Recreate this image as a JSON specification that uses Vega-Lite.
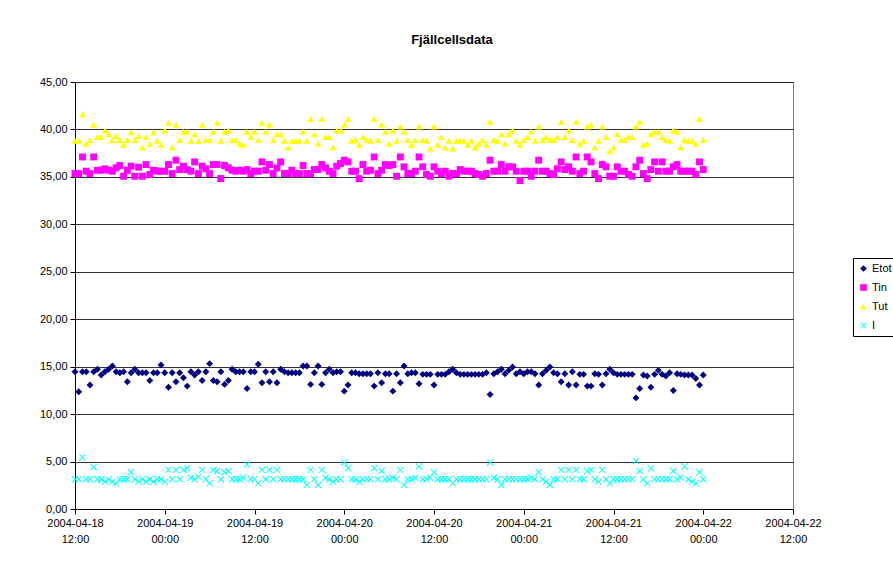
{
"$schema": "https://vega.github.io/schema/vega-lite/v6.json",
"width": 718, "height": 427,
"autosize": {"type": "none"},
"padding": {"left": 75, "top": 82, "right": 100, "bottom": 54},
"background": "white",
"config": {"view": {"stroke": "#808080", "strokeWidth": 1}, "font": "Liberation Sans"},
"title": {"text": "Fjällcellsdata", "font": "Liberation Sans", "fontSize": 13, "fontWeight": "bold", "color": "black", "anchor": "middle", "offset": 29, "dx": 18},
"data": {"format": {"parse": {"t": "utc:'%Y-%m-%d %H:%M'"}}, "values": [
{"t":"2004-04-18 12:00","Etot":14.47,"Tin":35.35,"Tut":38.8,"I":3.13},
{"t":"2004-04-18 12:30","Etot":12.35,"Tin":35.35,"Tut":38.8,"I":3.13},
{"t":"2004-04-18 13:00","Etot":14.47,"Tin":37.1,"Tut":41.6,"I":5.42},
{"t":"2004-04-18 13:30","Etot":14.47,"Tin":35.6,"Tut":38.5,"I":3.13},
{"t":"2004-04-18 14:00","Etot":13.06,"Tin":35.35,"Tut":38.9,"I":3.13},
{"t":"2004-04-18 14:30","Etot":14.47,"Tin":37.1,"Tut":40.5,"I":4.4},
{"t":"2004-04-18 15:00","Etot":14.72,"Tin":35.7,"Tut":39.2,"I":3.13},
{"t":"2004-04-18 15:30","Etot":14.12,"Tin":35.7,"Tut":39.2,"I":3.13},
{"t":"2004-04-18 16:00","Etot":14.47,"Tin":35.85,"Tut":39.9,"I":2.88},
{"t":"2004-04-18 16:30","Etot":14.72,"Tin":35.7,"Tut":39.5,"I":3.13},
{"t":"2004-04-18 17:00","Etot":15.07,"Tin":35.6,"Tut":38.9,"I":2.88},
{"t":"2004-04-18 17:30","Etot":14.47,"Tin":35.95,"Tut":39.3,"I":2.7},
{"t":"2004-04-18 18:00","Etot":14.36,"Tin":36.2,"Tut":38.9,"I":3.13},
{"t":"2004-04-18 18:30","Etot":14.47,"Tin":35.07,"Tut":38.4,"I":3.13},
{"t":"2004-04-18 19:00","Etot":13.41,"Tin":35.7,"Tut":38.9,"I":3.13},
{"t":"2004-04-18 19:30","Etot":14.36,"Tin":36.13,"Tut":39.7,"I":3.87},
{"t":"2004-04-18 20:00","Etot":14.72,"Tin":35.07,"Tut":38.9,"I":3.13},
{"t":"2004-04-18 20:30","Etot":14.36,"Tin":36.02,"Tut":39.3,"I":2.88},
{"t":"2004-04-18 21:00","Etot":14.36,"Tin":35.07,"Tut":38.1,"I":3.13},
{"t":"2004-04-18 21:30","Etot":14.36,"Tin":36.3,"Tut":39.2,"I":2.88},
{"t":"2004-04-18 22:00","Etot":13.55,"Tin":35.25,"Tut":38.5,"I":3.13},
{"t":"2004-04-18 22:30","Etot":14.36,"Tin":35.7,"Tut":39.7,"I":2.88},
{"t":"2004-04-18 23:00","Etot":14.36,"Tin":35.6,"Tut":38.8,"I":3.13},
{"t":"2004-04-18 23:30","Etot":15.18,"Tin":35.6,"Tut":38.4,"I":3.13},
{"t":"2004-04-19 00:00","Etot":14.36,"Tin":35.6,"Tut":39.9,"I":2.88},
{"t":"2004-04-19 00:30","Etot":12.84,"Tin":36.3,"Tut":40.7,"I":4.12},
{"t":"2004-04-19 01:00","Etot":14.36,"Tin":35.35,"Tut":38.1,"I":3.13},
{"t":"2004-04-19 01:30","Etot":13.41,"Tin":36.76,"Tut":40.5,"I":4.12},
{"t":"2004-04-19 02:00","Etot":14.36,"Tin":35.77,"Tut":38.9,"I":3.13},
{"t":"2004-04-19 02:30","Etot":13.83,"Tin":36.13,"Tut":39.75,"I":4.12},
{"t":"2004-04-19 03:00","Etot":12.95,"Tin":35.77,"Tut":39.75,"I":4.29},
{"t":"2004-04-19 03:30","Etot":14.47,"Tin":35.6,"Tut":38.8,"I":3.3},
{"t":"2004-04-19 04:00","Etot":14.12,"Tin":36.58,"Tut":39.5,"I":3.13},
{"t":"2004-04-19 04:30","Etot":14.47,"Tin":35.35,"Tut":38.8,"I":3.41},
{"t":"2004-04-19 05:00","Etot":13.55,"Tin":36.13,"Tut":40.5,"I":4.12},
{"t":"2004-04-19 05:30","Etot":14.47,"Tin":35.85,"Tut":38.9,"I":3.13},
{"t":"2004-04-19 06:00","Etot":15.32,"Tin":35.35,"Tut":38.9,"I":2.7},
{"t":"2004-04-19 06:30","Etot":13.55,"Tin":36.3,"Tut":39.75,"I":4.12},
{"t":"2004-04-19 07:00","Etot":13.41,"Tin":36.3,"Tut":40.7,"I":4.01},
{"t":"2004-04-19 07:30","Etot":14.47,"Tin":34.82,"Tut":38.8,"I":3.13},
{"t":"2004-04-19 08:00","Etot":13.13,"Tin":36.2,"Tut":39.75,"I":3.87},
{"t":"2004-04-19 08:30","Etot":13.55,"Tin":35.95,"Tut":39.9,"I":4.01},
{"t":"2004-04-19 09:00","Etot":14.72,"Tin":35.7,"Tut":38.9,"I":3.13},
{"t":"2004-04-19 09:30","Etot":14.47,"Tin":35.6,"Tut":38.9,"I":3.13},
{"t":"2004-04-19 10:00","Etot":14.47,"Tin":35.7,"Tut":38.5,"I":3.13},
{"t":"2004-04-19 10:30","Etot":14.47,"Tin":35.6,"Tut":38.4,"I":3.3},
{"t":"2004-04-19 11:00","Etot":12.7,"Tin":35.77,"Tut":39.75,"I":4.72},
{"t":"2004-04-19 11:30","Etot":14.47,"Tin":35.35,"Tut":39.2,"I":3.13},
{"t":"2004-04-19 12:00","Etot":14.47,"Tin":35.6,"Tut":39.75,"I":3.13},
{"t":"2004-04-19 12:30","Etot":15.25,"Tin":35.6,"Tut":38.9,"I":2.7},
{"t":"2004-04-19 13:00","Etot":13.3,"Tin":36.58,"Tut":40.7,"I":4.12},
{"t":"2004-04-19 13:30","Etot":14.47,"Tin":35.7,"Tut":39.75,"I":3.13},
{"t":"2004-04-19 14:00","Etot":13.41,"Tin":36.3,"Tut":40.5,"I":4.12},
{"t":"2004-04-19 14:30","Etot":14.47,"Tin":35.35,"Tut":38.9,"I":3.13},
{"t":"2004-04-19 15:00","Etot":13.3,"Tin":35.95,"Tut":39.5,"I":4.12},
{"t":"2004-04-19 15:30","Etot":14.72,"Tin":36.58,"Tut":39.5,"I":3.13},
{"t":"2004-04-19 16:00","Etot":14.47,"Tin":35.35,"Tut":38.8,"I":3.13},
{"t":"2004-04-19 16:30","Etot":14.36,"Tin":35.35,"Tut":38.1,"I":3.13},
{"t":"2004-04-19 17:00","Etot":14.36,"Tin":35.7,"Tut":38.8,"I":3.13},
{"t":"2004-04-19 17:30","Etot":14.36,"Tin":35.35,"Tut":38.8,"I":3.13},
{"t":"2004-04-19 18:00","Etot":14.36,"Tin":35.35,"Tut":38.8,"I":3.13},
{"t":"2004-04-19 18:30","Etot":15.07,"Tin":36.2,"Tut":39.75,"I":3.13},
{"t":"2004-04-19 19:00","Etot":15.07,"Tin":35.35,"Tut":38.8,"I":2.53},
{"t":"2004-04-19 19:30","Etot":13.13,"Tin":35.35,"Tut":41.1,"I":4.12},
{"t":"2004-04-19 20:00","Etot":14.36,"Tin":35.77,"Tut":39.5,"I":3.13},
{"t":"2004-04-19 20:30","Etot":15.07,"Tin":35.77,"Tut":38.5,"I":2.53},
{"t":"2004-04-19 21:00","Etot":13.13,"Tin":36.3,"Tut":41.1,"I":4.12},
{"t":"2004-04-19 21:30","Etot":14.36,"Tin":35.95,"Tut":39.2,"I":3.3},
{"t":"2004-04-19 22:00","Etot":14.72,"Tin":35.6,"Tut":39.2,"I":3.13},
{"t":"2004-04-19 22:30","Etot":14.36,"Tin":35.35,"Tut":38.1,"I":2.88},
{"t":"2004-04-19 23:00","Etot":14.47,"Tin":36.13,"Tut":39.9,"I":3.13},
{"t":"2004-04-19 23:30","Etot":14.47,"Tin":36.41,"Tut":39.9,"I":3.13},
{"t":"2004-04-20 00:00","Etot":12.42,"Tin":36.76,"Tut":40.5,"I":4.89},
{"t":"2004-04-20 00:30","Etot":13.06,"Tin":36.58,"Tut":41.1,"I":4.29},
{"t":"2004-04-20 01:00","Etot":14.36,"Tin":35.6,"Tut":38.8,"I":3.13},
{"t":"2004-04-20 01:30","Etot":14.36,"Tin":35.6,"Tut":38.9,"I":3.13},
{"t":"2004-04-20 02:00","Etot":14.26,"Tin":34.82,"Tut":38.4,"I":2.88},
{"t":"2004-04-20 02:30","Etot":14.26,"Tin":36.3,"Tut":39.2,"I":3.13},
{"t":"2004-04-20 03:00","Etot":14.26,"Tin":35.6,"Tut":38.9,"I":3.13},
{"t":"2004-04-20 03:30","Etot":14.26,"Tin":35.7,"Tut":38.8,"I":3.13},
{"t":"2004-04-20 04:00","Etot":12.95,"Tin":37.1,"Tut":41.1,"I":4.29},
{"t":"2004-04-20 04:30","Etot":14.36,"Tin":35.35,"Tut":38.9,"I":3.13},
{"t":"2004-04-20 05:00","Etot":13.3,"Tin":35.7,"Tut":40.5,"I":4.01},
{"t":"2004-04-20 05:30","Etot":14.26,"Tin":36.3,"Tut":39.75,"I":3.13},
{"t":"2004-04-20 06:00","Etot":14.26,"Tin":36.2,"Tut":38.5,"I":3.13},
{"t":"2004-04-20 06:30","Etot":12.42,"Tin":36.3,"Tut":39.9,"I":3.3},
{"t":"2004-04-20 07:00","Etot":14.26,"Tin":35.07,"Tut":38.8,"I":3.13},
{"t":"2004-04-20 07:30","Etot":13.3,"Tin":37.1,"Tut":40.3,"I":4.12},
{"t":"2004-04-20 08:00","Etot":15.07,"Tin":36.06,"Tut":39.75,"I":2.53},
{"t":"2004-04-20 08:30","Etot":14.26,"Tin":35.35,"Tut":38.9,"I":3.13},
{"t":"2004-04-20 09:00","Etot":14.36,"Tin":35.35,"Tut":38.4,"I":3.13},
{"t":"2004-04-20 09:30","Etot":14.36,"Tin":35.6,"Tut":38.9,"I":3.3},
{"t":"2004-04-20 10:00","Etot":13.2,"Tin":37.1,"Tut":40.3,"I":4.47},
{"t":"2004-04-20 10:30","Etot":14.19,"Tin":36.06,"Tut":38.9,"I":3.13},
{"t":"2004-04-20 11:00","Etot":14.19,"Tin":35.25,"Tut":38.8,"I":3.13},
{"t":"2004-04-20 11:30","Etot":14.19,"Tin":35.07,"Tut":38.0,"I":3.3},
{"t":"2004-04-20 12:00","Etot":13.06,"Tin":36.06,"Tut":40.3,"I":3.87},
{"t":"2004-04-20 12:30","Etot":14.19,"Tin":35.6,"Tut":38.4,"I":3.13},
{"t":"2004-04-20 13:00","Etot":14.19,"Tin":35.35,"Tut":39.2,"I":3.13},
{"t":"2004-04-20 13:30","Etot":14.19,"Tin":35.6,"Tut":38.1,"I":3.13},
{"t":"2004-04-20 14:00","Etot":14.47,"Tin":35.07,"Tut":38.8,"I":3.13},
{"t":"2004-04-20 14:30","Etot":14.72,"Tin":35.35,"Tut":38.0,"I":2.7},
{"t":"2004-04-20 15:00","Etot":14.36,"Tin":35.35,"Tut":38.8,"I":3.13},
{"t":"2004-04-20 15:30","Etot":14.19,"Tin":35.77,"Tut":38.8,"I":3.13},
{"t":"2004-04-20 16:00","Etot":14.19,"Tin":35.6,"Tut":38.8,"I":3.13},
{"t":"2004-04-20 16:30","Etot":14.19,"Tin":35.6,"Tut":38.4,"I":3.13},
{"t":"2004-04-20 17:00","Etot":14.19,"Tin":35.6,"Tut":38.8,"I":3.13},
{"t":"2004-04-20 17:30","Etot":14.19,"Tin":35.35,"Tut":38.1,"I":3.13},
{"t":"2004-04-20 18:00","Etot":14.19,"Tin":35.25,"Tut":38.5,"I":3.13},
{"t":"2004-04-20 18:30","Etot":14.19,"Tin":35.07,"Tut":38.9,"I":3.13},
{"t":"2004-04-20 19:00","Etot":14.36,"Tin":35.35,"Tut":38.4,"I":3.13},
{"t":"2004-04-20 19:30","Etot":12.07,"Tin":36.76,"Tut":40.8,"I":4.89},
{"t":"2004-04-20 20:00","Etot":14.26,"Tin":35.6,"Tut":38.9,"I":3.3},
{"t":"2004-04-20 20:30","Etot":14.47,"Tin":35.6,"Tut":38.8,"I":3.13},
{"t":"2004-04-20 21:00","Etot":14.72,"Tin":36.3,"Tut":39.5,"I":2.53},
{"t":"2004-04-20 21:30","Etot":14.26,"Tin":35.6,"Tut":38.5,"I":3.13},
{"t":"2004-04-20 22:00","Etot":14.61,"Tin":36.06,"Tut":39.5,"I":3.13},
{"t":"2004-04-20 22:30","Etot":14.96,"Tin":36.06,"Tut":39.9,"I":3.13},
{"t":"2004-04-20 23:00","Etot":14.26,"Tin":35.6,"Tut":38.8,"I":3.13},
{"t":"2004-04-20 23:30","Etot":14.47,"Tin":34.61,"Tut":38.4,"I":3.13},
{"t":"2004-04-21 00:00","Etot":14.26,"Tin":35.6,"Tut":38.9,"I":3.13},
{"t":"2004-04-21 00:30","Etot":14.47,"Tin":35.6,"Tut":39.2,"I":3.13},
{"t":"2004-04-21 01:00","Etot":14.47,"Tin":35.07,"Tut":39.75,"I":3.3},
{"t":"2004-04-21 01:30","Etot":14.26,"Tin":35.6,"Tut":38.8,"I":3.13},
{"t":"2004-04-21 02:00","Etot":13.06,"Tin":36.76,"Tut":40.3,"I":3.87},
{"t":"2004-04-21 02:30","Etot":14.26,"Tin":35.6,"Tut":38.9,"I":3.13},
{"t":"2004-04-21 03:00","Etot":14.61,"Tin":35.6,"Tut":39.2,"I":2.88},
{"t":"2004-04-21 03:30","Etot":14.96,"Tin":35.35,"Tut":38.9,"I":2.53},
{"t":"2004-04-21 04:00","Etot":14.36,"Tin":35.25,"Tut":38.9,"I":3.13},
{"t":"2004-04-21 04:30","Etot":14.26,"Tin":35.85,"Tut":39.2,"I":3.13},
{"t":"2004-04-21 05:00","Etot":13.41,"Tin":36.58,"Tut":40.8,"I":4.12},
{"t":"2004-04-21 05:30","Etot":14.26,"Tin":35.77,"Tut":39.2,"I":3.13},
{"t":"2004-04-21 06:00","Etot":13.06,"Tin":36.06,"Tut":39.9,"I":4.12},
{"t":"2004-04-21 06:30","Etot":14.47,"Tin":35.6,"Tut":38.9,"I":3.13},
{"t":"2004-04-21 07:00","Etot":13.06,"Tin":37.1,"Tut":40.8,"I":4.12},
{"t":"2004-04-21 07:30","Etot":14.19,"Tin":35.35,"Tut":38.5,"I":3.13},
{"t":"2004-04-21 08:00","Etot":14.19,"Tin":35.6,"Tut":38.8,"I":3.13},
{"t":"2004-04-21 08:30","Etot":12.95,"Tin":37.1,"Tut":40.3,"I":4.01},
{"t":"2004-04-21 09:00","Etot":12.95,"Tin":36.58,"Tut":40.5,"I":4.12},
{"t":"2004-04-21 09:30","Etot":14.26,"Tin":35.35,"Tut":38.1,"I":3.13},
{"t":"2004-04-21 10:00","Etot":14.19,"Tin":34.82,"Tut":38.8,"I":2.88},
{"t":"2004-04-21 10:30","Etot":13.06,"Tin":36.3,"Tut":40.3,"I":4.12},
{"t":"2004-04-21 11:00","Etot":14.26,"Tin":36.06,"Tut":39.2,"I":3.13},
{"t":"2004-04-21 11:30","Etot":14.72,"Tin":35.07,"Tut":37.7,"I":2.7},
{"t":"2004-04-21 12:00","Etot":14.36,"Tin":35.07,"Tut":38.1,"I":3.13},
{"t":"2004-04-21 12:30","Etot":14.19,"Tin":36.06,"Tut":39.5,"I":3.13},
{"t":"2004-04-21 13:00","Etot":14.19,"Tin":35.6,"Tut":38.9,"I":3.13},
{"t":"2004-04-21 13:30","Etot":14.19,"Tin":35.6,"Tut":38.9,"I":3.13},
{"t":"2004-04-21 14:00","Etot":14.19,"Tin":35.25,"Tut":39.2,"I":3.13},
{"t":"2004-04-21 14:30","Etot":14.19,"Tin":35.07,"Tut":39.2,"I":3.13},
{"t":"2004-04-21 15:00","Etot":11.71,"Tin":36.06,"Tut":40.3,"I":5.07},
{"t":"2004-04-21 15:30","Etot":12.7,"Tin":36.76,"Tut":40.8,"I":4.01},
{"t":"2004-04-21 16:00","Etot":14.12,"Tin":35.35,"Tut":38.4,"I":3.13},
{"t":"2004-04-21 16:30","Etot":14.01,"Tin":34.82,"Tut":38.5,"I":2.7},
{"t":"2004-04-21 17:00","Etot":12.84,"Tin":35.77,"Tut":39.5,"I":4.29},
{"t":"2004-04-21 17:30","Etot":14.19,"Tin":36.58,"Tut":39.75,"I":3.13},
{"t":"2004-04-21 18:00","Etot":14.61,"Tin":35.6,"Tut":39.75,"I":3.13},
{"t":"2004-04-21 18:30","Etot":14.19,"Tin":36.58,"Tut":39.2,"I":3.13},
{"t":"2004-04-21 19:00","Etot":14.01,"Tin":35.6,"Tut":38.9,"I":3.13},
{"t":"2004-04-21 19:30","Etot":14.36,"Tin":35.6,"Tut":38.8,"I":3.13},
{"t":"2004-04-21 20:00","Etot":12.49,"Tin":36.06,"Tut":39.9,"I":4.01},
{"t":"2004-04-21 20:30","Etot":14.26,"Tin":36.3,"Tut":39.75,"I":3.13},
{"t":"2004-04-21 21:00","Etot":14.19,"Tin":35.6,"Tut":38.1,"I":3.3},
{"t":"2004-04-21 21:30","Etot":14.12,"Tin":35.6,"Tut":38.9,"I":4.47},
{"t":"2004-04-21 22:00","Etot":14.12,"Tin":35.6,"Tut":38.8,"I":3.13},
{"t":"2004-04-21 22:30","Etot":14.12,"Tin":35.6,"Tut":38.8,"I":2.88},
{"t":"2004-04-21 23:00","Etot":13.76,"Tin":35.25,"Tut":38.5,"I":2.7},
{"t":"2004-04-21 23:30","Etot":13.06,"Tin":36.58,"Tut":41.1,"I":3.87},
{"t":"2004-04-22 00:00","Etot":14.12,"Tin":35.77,"Tut":38.9,"I":3.13}
]},
"transform": [{"fold": ["Etot", "Tin", "Tut", "I"], "as": ["series", "value"]}],
"mark": {"type": "point", "filled": true, "opacity": 1, "size": 48, "strokeWidth": 0},
"encoding": {
  "x": {"field": "t", "type": "temporal",
    "scale": {"type": "utc", "nice": false, "domain": [{"year": 2004, "month": 4, "date": 18, "hours": 12, "utc": true}, {"year": 2004, "month": 4, "date": 22, "hours": 12, "utc": true}]},
    "axis": {"title": null, "grid": false,
      "values": [
        {"year": 2004, "month": 4, "date": 18, "hours": 12, "utc": true},
        {"year": 2004, "month": 4, "date": 19, "hours": 0, "utc": true},
        {"year": 2004, "month": 4, "date": 19, "hours": 12, "utc": true},
        {"year": 2004, "month": 4, "date": 20, "hours": 0, "utc": true},
        {"year": 2004, "month": 4, "date": 20, "hours": 12, "utc": true},
        {"year": 2004, "month": 4, "date": 21, "hours": 0, "utc": true},
        {"year": 2004, "month": 4, "date": 21, "hours": 12, "utc": true},
        {"year": 2004, "month": 4, "date": 22, "hours": 0, "utc": true},
        {"year": 2004, "month": 4, "date": 22, "hours": 12, "utc": true}],
      "labelExpr": "[utcFormat(datum.value, '%Y-%m-%d'), utcFormat(datum.value, '%H:%M')]",
      "domainColor": "black", "tickColor": "black", "tickSize": 5,
      "labelFont": "Liberation Sans", "labelFontSize": 11, "labelColor": "black",
      "labelPadding": 3, "labelLineHeight": 16, "labelOverlap": false, "labelFlush": false}},
  "y": {"field": "value", "type": "quantitative",
    "scale": {"domain": [0, 45], "nice": false},
    "axis": {"title": null, "grid": true, "gridColor": "black", "gridOpacity": 0.8,
      "values": [0, 5, 10, 15, 20, 25, 30, 35, 40, 45],
      "labelExpr": "replace(format(datum.value, '.2f'), '.', ',')",
      "domainColor": "black", "tickColor": "black", "tickSize": 5,
      "labelFont": "Liberation Sans", "labelFontSize": 11, "labelColor": "black", "labelPadding": 3}},
  "color": {"field": "series", "type": "nominal",
    "scale": {"domain": ["Etot", "Tin", "Tut", "I"], "range": ["#000080", "#FF00FF", "#FFFF00", "#00FFFF"]},
    "legend": {"orient": "none", "legendX": 778, "legendY": 176, "title": null, "strokeColor": "black", "fillColor": "white", "padding": 5,
      "labelFont": "Liberation Sans", "labelFontSize": 11, "labelColor": "black", "symbolSize": 44, "rowPadding": 7, "labelOffset": 3, "symbolOpacity": 1, "symbolStrokeWidth": 0}},
  "shape": {"field": "series", "type": "nominal",
    "scale": {"domain": ["Etot", "Tin", "Tut", "I"], "range": ["diamond", "square", "triangle-up", "M-1,-0.8L-0.8,-1L0,-0.2L0.8,-1L1,-0.8L0.2,0L1,0.8L0.8,1L0,0.2L-0.8,1L-1,0.8L-0.2,0Z"]},
    "legend": {"orient": "none", "legendX": 778, "legendY": 176, "title": null, "strokeColor": "black", "fillColor": "white", "padding": 5,
      "labelFont": "Liberation Sans", "labelFontSize": 11, "labelColor": "black", "symbolSize": 44, "rowPadding": 7, "labelOffset": 3, "symbolOpacity": 1, "symbolStrokeWidth": 0}}
}
}
